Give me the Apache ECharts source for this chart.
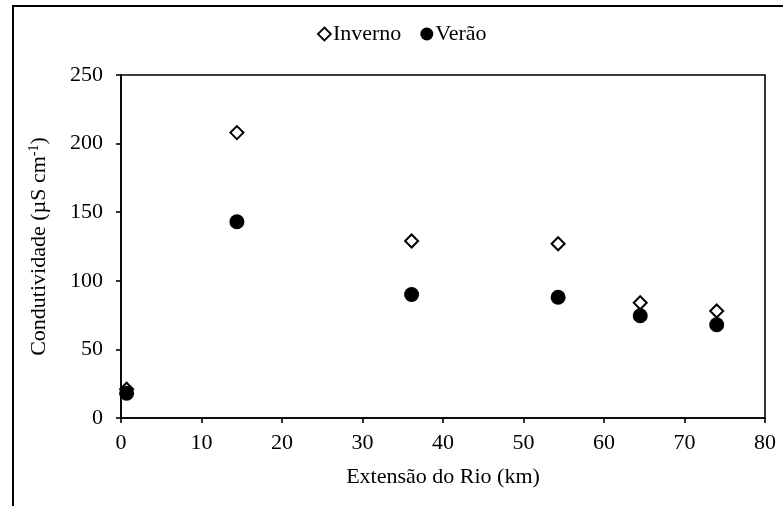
<!DOCTYPE html>
<html>
<head>
<meta charset="utf-8">
<script src="https://cdn.jsdelivr.net/npm/echarts@6/dist/echarts.min.js"></script>
<style>
  html, body { margin: 0; padding: 0; background: #fff; }
  #chart { width: 783px; height: 506px; }
</style>
</head>
<body>
<div id="chart"></div>
<script>
// River distance (km) of each sampling station
const distanciaKm = [0.7, 14.4, 36.1, 54.3, 64.5, 74.0];
// Conductivity (µS cm-1) per season
const inverno = [21, 208, 129, 127, 84, 78];
const verao = [18, 143, 90, 88, 74.5, 68];
// Axis ticks
const xTicks = [0, 10, 20, 30, 40, 50, 60, 70, 80];
const yTicks = [0, 50, 100, 150, 200, 250];

const serif = '"Liberation Serif", "Times New Roman", serif';
const FS = 22;

const chart = echarts.init(document.getElementById('chart'), null, { renderer: 'canvas' });

chart.setOption({
  animation: false,
  backgroundColor: '#fff',
  graphic: [{
    type: 'rect',
    shape: { x: 13, y: 6, width: 800, height: 540 },
    style: { fill: 'none', stroke: '#000', lineWidth: 2 },
    silent: true,
    z: -1
  }],
  legend: {
    top: 18,
    left: 312,
    itemWidth: 13,
    itemHeight: 13,
    itemGap: 19,
    textStyle: { fontFamily: serif, fontSize: FS, color: '#000', padding: [0, 0, 0, -3] },
    data: [
      { name: 'Inverno', icon: 'diamond', itemStyle: { color: '#fff', borderColor: '#000', borderWidth: 1.8, opacity: 1 } },
      { name: 'Verão', icon: 'circle', itemStyle: { color: '#000', opacity: 1 } }
    ]
  },
  grid: {
    left: 121,
    right: 18,
    top: 75,
    bottom: 88,
    show: true,
    borderColor: '#000',
    borderWidth: 1.6,
    backgroundColor: 'transparent'
  },
  xAxis: {
    type: 'value',
    min: xTicks[0],
    max: xTicks[xTicks.length - 1],
    interval: 10,
    name: 'Extensão do Rio (km)',
    nameLocation: 'middle',
    nameGap: 48,
    nameTextStyle: { fontFamily: serif, fontSize: FS, color: '#000' },
    axisLine: { show: true, lineStyle: { color: '#000', width: 1.6 } },
    axisTick: { show: true, length: 5, inside: false, lineStyle: { color: '#000', width: 1.6 } },
    axisLabel: { fontFamily: serif, fontSize: FS, color: '#000', margin: 14 },
    splitLine: { show: false }
  },
  yAxis: {
    type: 'value',
    min: yTicks[0],
    max: yTicks[yTicks.length - 1],
    interval: 50,
    name: '{n|Condutividade (µS cm}{s|-1}{n|)}',
    nameLocation: 'middle',
    nameGap: 70,
    nameRotate: 90,
    nameTextStyle: {
      fontFamily: serif, fontSize: FS, color: '#000',
      rich: {
        n: { fontFamily: serif, fontSize: FS, color: '#000' },
        s: { fontFamily: serif, fontSize: 14, color: '#000', verticalAlign: 'top', padding: [0, 0, 10, 0] }
      }
    },
    axisLine: { show: true, lineStyle: { color: '#000', width: 1.6 } },
    axisTick: { show: true, length: 5, inside: false, lineStyle: { color: '#000', width: 1.6 } },
    axisLabel: { fontFamily: serif, fontSize: FS, color: '#000', margin: 18 },
    splitLine: { show: false }
  },
  series: [
    {
      name: 'Verão',
      type: 'scatter',
      symbol: 'circle',
      symbolSize: 15,
      itemStyle: { color: '#000', opacity: 1 },
      data: distanciaKm.map((x, i) => [x, verao[i]]),
      z: 2
    },
    {
      name: 'Inverno',
      type: 'scatter',
      symbol: 'diamond',
      symbolSize: 13,
      itemStyle: { color: '#fff', borderColor: '#000', borderWidth: 2, opacity: 1 },
      data: distanciaKm.map((x, i) => [x, inverno[i]]),
      z: 1
    }
  ]
});
</script>
</body>
</html>
